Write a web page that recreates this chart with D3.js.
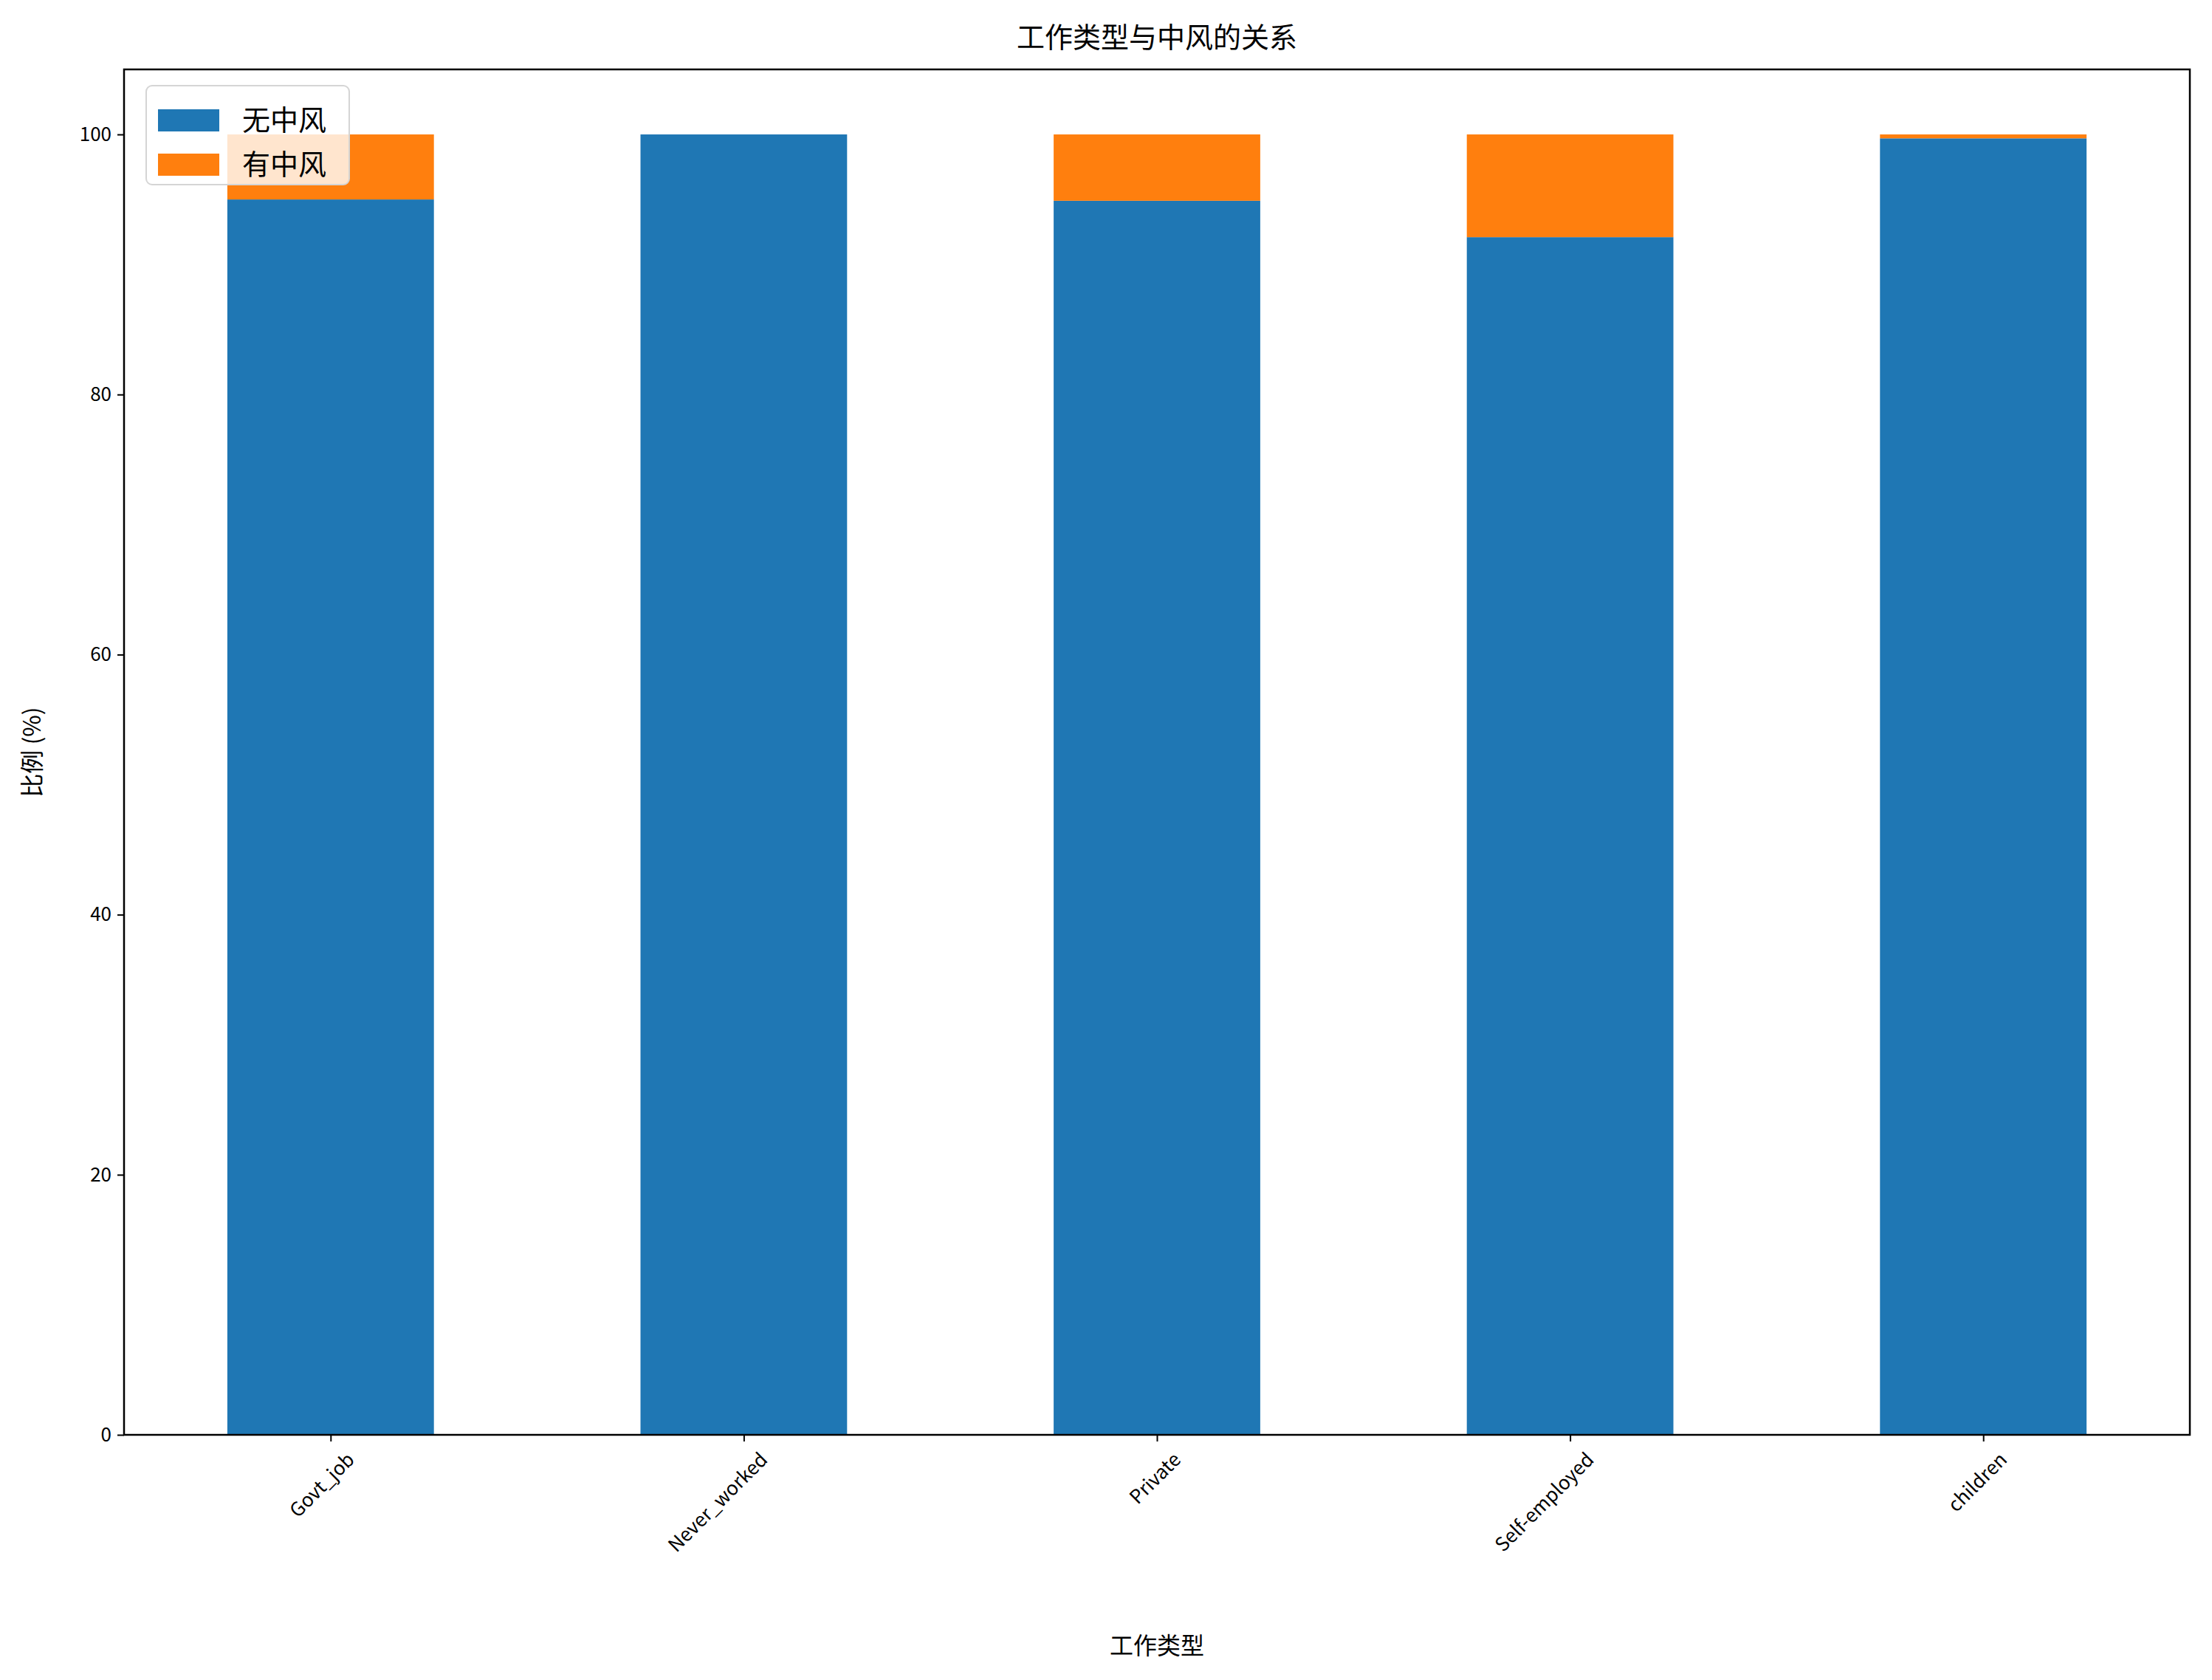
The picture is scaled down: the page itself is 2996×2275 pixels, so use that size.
<!DOCTYPE html>
<html>
<head>
<meta charset="utf-8">
<script src="https://cdn.jsdelivr.net/npm/d3@7"></script>
<style>
  body { margin: 0; background: #fff; }
  text { font-family: "Noto Sans CJK SC", "DejaVu Sans", sans-serif; fill: #000; }
</style>
</head>
<body>
<div id="chart"></div>
<script>
const categories = ['Govt_job', 'Never_worked', 'Private', 'Self-employed', 'children'];
const noStroke = [95.0, 100.0, 94.9, 92.1, 99.7];
const stroke = [5.0, 0.0, 5.1, 7.9, 0.3];
const seriesNames = ['无中风', '有中风'];
const colors = ['#1f77b4', '#ff7f0e'];
const yTicks = [0, 20, 40, 60, 80, 100];

const W = 2996, H = 2275;
const m = {left: 168, right: 30, top: 94, bottom: 332};
const iw = W - m.left - m.right, ih = H - m.top - m.bottom;

const svg = d3.select('#chart').append('svg')
  .attr('width', W).attr('height', H);
const g = svg.append('g').attr('transform', `translate(${m.left},${m.top})`);

const x = d3.scaleLinear().domain([-0.5, categories.length - 0.5]).range([0, iw]);
const y = d3.scaleLinear().domain([0, 105]).range([ih, 0]);
const bw = x(0.5) - x(0);

const rows = categories.map((c, i) => ({c, i, a: noStroke[i], b: stroke[i]}));
const stack = d3.stack().keys(['a', 'b'])(rows);

stack.forEach((layer, k) => {
  g.selectAll(null).data(layer).join('rect')
    .attr('x', d => x(d.data.i) - bw / 2)
    .attr('width', bw)
    .attr('y', d => y(d[1]))
    .attr('height', d => y(d[0]) - y(d[1]))
    .attr('fill', colors[k]);
});

// axes
const ya = g.append('g').call(d3.axisLeft(y).tickValues(yTicks).tickSize(9).tickPadding(8));
ya.selectAll('text').attr('font-size', 26);
const xa = g.append('g').attr('transform', `translate(0,${ih})`)
  .call(d3.axisBottom(x).tickValues(d3.range(categories.length)).tickFormat(i => categories[i]).tickSize(9));
xa.selectAll('text')
  .attr('font-size', 26)
  .attr('text-anchor', 'end')
  .attr('transform', 'translate(12,14) rotate(-45)')
  .attr('dy', '0.7em');
g.selectAll('.domain').remove();
g.append('rect').attr('width', iw).attr('height', ih)
  .attr('fill', 'none').attr('stroke', '#000').attr('stroke-width', 2.5);
g.selectAll('.tick line').attr('stroke-width', 2);

svg.append('text').attr('x', m.left + iw / 2).attr('y', 64)
  .attr('text-anchor', 'middle').attr('font-size', 38).text('工作类型与中风的关系');
svg.append('text').attr('x', m.left + iw / 2).attr('y', 2240)
  .attr('text-anchor', 'middle').attr('font-size', 32).text('工作类型');
svg.append('text').attr('transform', `translate(55,${m.top + ih / 2}) rotate(-90)`)
  .attr('text-anchor', 'middle').attr('font-size', 32).text('比例 (%)');

// legend
const lg = g.append('g').attr('transform', 'translate(30,22)');
lg.append('rect').attr('width', 275).attr('height', 134).attr('rx', 8)
  .attr('fill', '#fff').attr('fill-opacity', 0.8).attr('stroke', '#d5d5d5').attr('stroke-width', 2);
seriesNames.forEach((s, i) => {
  lg.append('rect').attr('x', 16).attr('y', 32 + i * 60).attr('width', 83).attr('height', 30).attr('fill', colors[i]);
  lg.append('text').attr('x', 130).attr('y', 47 + i * 60).attr('dy', '0.35em')
    .attr('font-size', 38).text(s);
});
</script>
</body>
</html>
